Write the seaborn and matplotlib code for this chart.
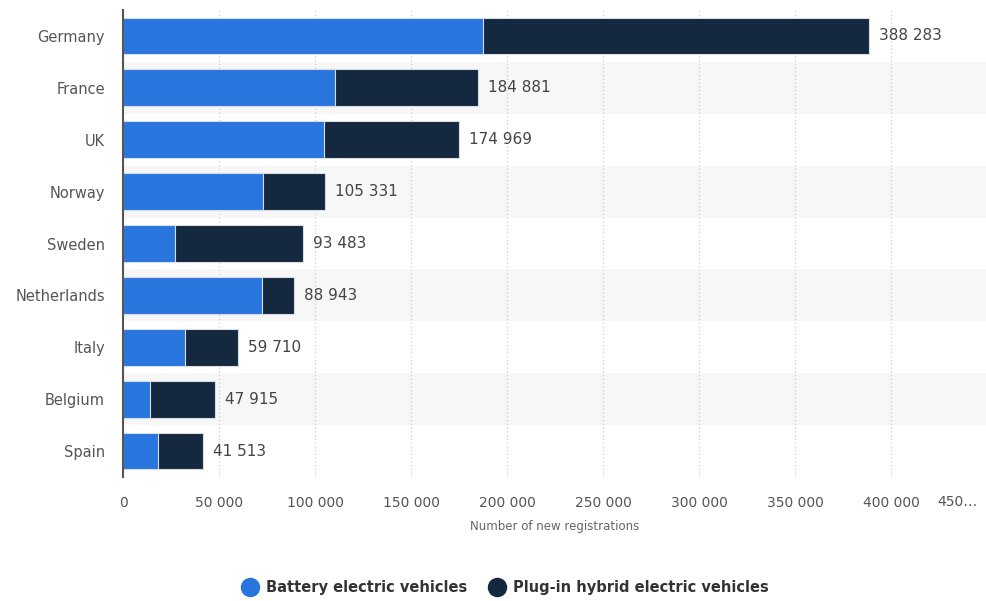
import matplotlib
matplotlib.use("Agg")
import matplotlib.pyplot as plt
import seaborn as sns
import pandas as pd
from matplotlib.lines import Line2D

countries = ["Germany", "France", "UK", "Norway", "Sweden", "Netherlands", "Italy", "Belgium", "Spain"]
bev = [187300, 110600, 104600, 73000, 27000, 72300, 32200, 14200, 18000]
phev = [200983, 74281, 70369, 32331, 66483, 16643, 27510, 33715, 23513]
xticks = [0, 50000, 100000, 150000, 200000, 250000, 300000, 350000, 400000]
xtick_labels = ["0", "50 000", "100 000", "150 000", "200 000", "250 000", "300 000", "350 000", "400 000"]
series_names = ["Battery electric vehicles", "Plug-in hybrid electric vehicles"]

BLUE = "#2876dd"
DARK = "#14283f"

df = pd.DataFrame({"country": countries, "bev": bev, "phev": phev})
df["total"] = df["bev"] + df["phev"]

sns.set_theme(style="white")
plt.rcParams["font.family"] = ["DejaVu Sans"]

fig = plt.figure(figsize=(9.86, 6.01), dpi=100)
ax = fig.add_axes([123 / 986, 1 - 477 / 601, 1 - 123 / 986, (477 - 10) / 601])

# alternating bands
for i in range(len(countries)):
    if i % 2 == 1:
        ax.axhspan(i - 0.5, i + 0.5, color="#f7f7f7", zorder=0, lw=0)

sns.barplot(data=df, y="country", x="total", orient="h", color=DARK, width=0.71,
            edgecolor="#d8dde3", linewidth=0.8, saturation=1, ax=ax, zorder=3)
sns.barplot(data=df, y="country", x="bev", orient="h", color=BLUE, width=0.71,
            edgecolor="#d8dde3", linewidth=0.8, saturation=1, ax=ax, zorder=4)

ax.set_xlim(0, 449200)
ax.set_ylim(len(countries) - 0.5, -0.5)
ax.set_xticks(xticks)
ax.set_xticklabels(xtick_labels)
ax.tick_params(axis="x", length=0, pad=14, labelsize=10, labelcolor="#555555")
ax.tick_params(axis="y", length=0, pad=13, labelsize=10.5, labelcolor="#555555")
ax.text(0.99, -0.0545, "450…", transform=ax.transAxes, ha="right", va="center",
        fontsize=10, color="#555555")

ax.xaxis.grid(True, linestyle=(0, (1, 2)), color="#cccccc", linewidth=0.9)
ax.set_axisbelow(True)
for g in ax.get_xgridlines():
    g.set_zorder(1)

for s in ["top", "right", "bottom"]:
    ax.spines[s].set_visible(False)
ax.spines["left"].set_color("#555555")
ax.spines["left"].set_linewidth(1.5)
ax.spines["left"].set_zorder(6)

ax.set_ylabel("")
ax.set_xlabel("Number of new registrations", fontsize=8.5, color="#666666", labelpad=7)

for i, t in enumerate(df["total"]):
    ax.text(t + 5200, i, f"{t:,}".replace(",", " "), va="center", ha="left",
            fontsize=11, color="#444444", zorder=7)

handles = [Line2D([0], [0], marker="o", linestyle="", markersize=13, markerfacecolor=BLUE, markeredgecolor=BLUE),
           Line2D([0], [0], marker="o", linestyle="", markersize=13, markerfacecolor=DARK, markeredgecolor=DARK)]
leg = fig.legend(handles, series_names, loc="center", bbox_to_anchor=(0.512, 0.023), ncol=2,
                 frameon=False, handletextpad=0.5, columnspacing=1.4, handlelength=1.2,
                 prop={"size": 10.5, "weight": "bold"})
for t in leg.get_texts():
    t.set_color("#333333")

fig.savefig("out.png", dpi=100)
